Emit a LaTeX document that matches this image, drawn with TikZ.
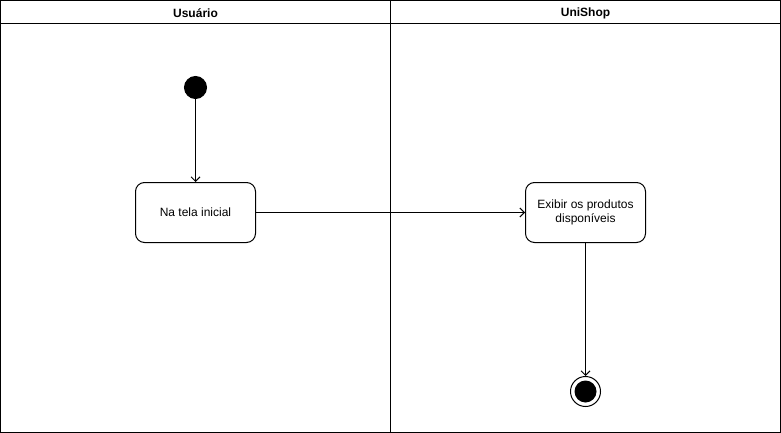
\documentclass[tikz,border=0pt]{standalone}
\usepackage{fontspec}
\setmainfont{Liberation Sans}
\usetikzlibrary{arrows.meta,positioning}
\tikzset{
  activity/.style={draw,rounded corners=9pt,minimum width=120pt,minimum height=60pt,align=center,font=\fontsize{12}{14}\selectfont,inner sep=2pt},
  startnode/.style={circle,fill=black,draw,minimum size=22pt,inner sep=0pt},
  endnode/.style={circle,draw,minimum size=30pt,inner sep=0pt,path picture={\fill (path picture bounding box.center) circle[radius=11pt];}},
  lanehead/.style={font=\bfseries\fontsize{12}{14}\selectfont,inner sep=0pt},
  flow/.style={-{Straight Barb[length=4.5pt,width=9pt]}}
}
\begin{document}
\begin{tikzpicture}[x=1pt,y=-1pt,line width=1pt]
  \useasboundingbox (0,0) rectangle (781,433);
  % swimlanes
  \draw (0.5,0.5) rectangle (780.5,432.5);
  \draw (0.5,23.5) -- (780.5,23.5);
  \draw (390.5,0.5) -- (390.5,432.5);
  \node[lanehead] (usuario) at (195.5,13) {Usuário};
  \node[lanehead] (unishop) at (585.5,13) {UniShop};
  % nodes
  \node[startnode] (inicio) at (195.5,87.5) {};
  \node[activity] (tela) at (195.5,212.5) {Na tela inicial};
  \node[activity] (exibir) at (585.5,212.5) {Exibir os produtos\\disponíveis};
  \node[endnode] (fim) at (585.5,391.5) {};
  % flows
  \draw[flow] (inicio) -- (tela);
  \draw[flow] (tela) -- (exibir);
  \draw[flow] (exibir) -- (fim);
\end{tikzpicture}
\end{document}
